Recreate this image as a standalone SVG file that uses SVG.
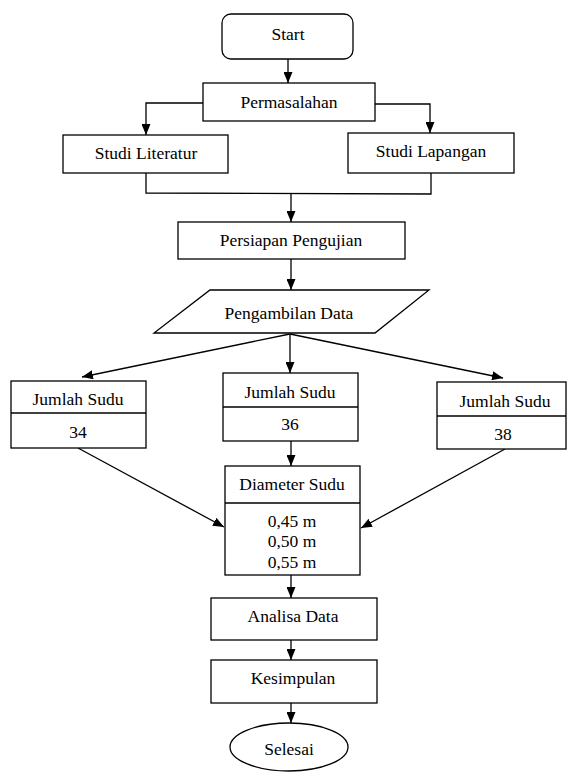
<svg xmlns="http://www.w3.org/2000/svg" width="570" height="773" viewBox="0 0 570 773">
<style>
.n{fill:#fff;stroke:#000;stroke-width:1.3}
.t{font-family:'Liberation Serif','Times New Roman','DejaVu Serif',serif;font-size:17.5px;fill:#000;text-anchor:middle}
.c{fill:none;stroke:#000;stroke-width:1.3}
</style>
<defs>
<marker id="ah" markerUnits="userSpaceOnUse" markerWidth="11" markerHeight="9" refX="11" refY="4.5" orient="auto">
<path d="M0,0 L11,4.5 L0,9 z" fill="#000"/>
</marker>
</defs>
<rect width="570" height="773" fill="#fff"/>
<g id="connectors">
<path class="c" d="M288,59 V83" marker-end="url(#ah)"/>
<path class="c" d="M203,103 H146 V135" marker-end="url(#ah)"/>
<path class="c" d="M375,104 H430 V133" marker-end="url(#ah)"/>
<path class="c" d="M146,173 V193 L431,194 V173"/>
<path class="c" d="M291,194 V222" marker-end="url(#ah)"/>
<path class="c" d="M291,259 V290" marker-end="url(#ah)"/>
<path class="c" d="M290,334 L82,377" marker-end="url(#ah)"/>
<path class="c" d="M290,334 V373" marker-end="url(#ah)"/>
<path class="c" d="M290,334 L503,378" marker-end="url(#ah)"/>
<path class="c" d="M78,448 L224,527" marker-end="url(#ah)"/>
<path class="c" d="M505,449 L361,528" marker-end="url(#ah)"/>
<path class="c" d="M291,441 V466" marker-end="url(#ah)"/>
<path class="c" d="M291,575 V598" marker-end="url(#ah)"/>
<path class="c" d="M291,640 V660" marker-end="url(#ah)"/>
<path class="c" d="M291,703 V723" marker-end="url(#ah)"/>
</g>
<g id="start">
<rect class="n" x="222" y="14" width="131" height="45" rx="9"/>
<text class="t" x="288" y="40" font-family="Liberation Serif, serif">Start</text>
</g>
<g id="permasalahan">
<rect class="n" x="203" y="83" width="172" height="38"/>
<text class="t" x="289" y="108">Permasalahan</text>
</g>
<g id="studi-literatur">
<rect class="n" x="63" y="135" width="165" height="38"/>
<text class="t" x="146" y="159">Studi Literatur</text>
</g>
<g id="studi-lapangan">
<rect class="n" x="348" y="133" width="166" height="40"/>
<text class="t" x="431" y="157">Studi Lapangan</text>
</g>
<g id="persiapan">
<rect class="n" x="178" y="222" width="227" height="37"/>
<text class="t" x="291" y="246">Persiapan Pengujian</text>
</g>
<g id="pengambilan">
<polygon class="n" points="210,290 429,290 375,333 154,333"/>
<text class="t" x="289" y="319">Pengambilan Data</text>
</g>
<g id="jumlah-34">
<rect class="n" x="11" y="381" width="135" height="67"/>
<line class="c" x1="11" y1="413" x2="146" y2="413"/>
<text class="t" x="78" y="405">Jumlah Sudu</text>
<text class="t" x="78" y="438">34</text>
</g>
<g id="jumlah-36">
<rect class="n" x="223" y="373" width="135" height="68"/>
<line class="c" x1="223" y1="407" x2="358" y2="407"/>
<text class="t" x="290" y="398">Jumlah Sudu</text>
<text class="t" x="290" y="430">36</text>
</g>
<g id="jumlah-38">
<rect class="n" x="437" y="382" width="129" height="67"/>
<line class="c" x1="437" y1="416" x2="566" y2="416"/>
<text class="t" x="505" y="407">Jumlah Sudu</text>
<text class="t" x="503" y="440">38</text>
</g>
<g id="diameter">
<rect class="n" x="225" y="466" width="135" height="109"/>
<line class="c" x1="225" y1="503" x2="360" y2="503"/>
<text class="t" x="292" y="490">Diameter Sudu</text>
<text class="t" x="292" y="527">0,45 m</text>
<text class="t" x="292" y="547">0,50 m</text>
<text class="t" x="292" y="568">0,55 m</text>
</g>
<g id="analisa">
<rect class="n" x="211" y="598" width="166" height="42"/>
<text class="t" x="293" y="622">Analisa Data</text>
</g>
<g id="kesimpulan">
<rect class="n" x="211" y="660" width="166" height="43"/>
<text class="t" x="293" y="684">Kesimpulan</text>
</g>
<g id="selesai">
<ellipse class="n" cx="289" cy="747" rx="59" ry="24"/>
<text class="t" x="289" y="755">Selesai</text>
</g>
</svg>
